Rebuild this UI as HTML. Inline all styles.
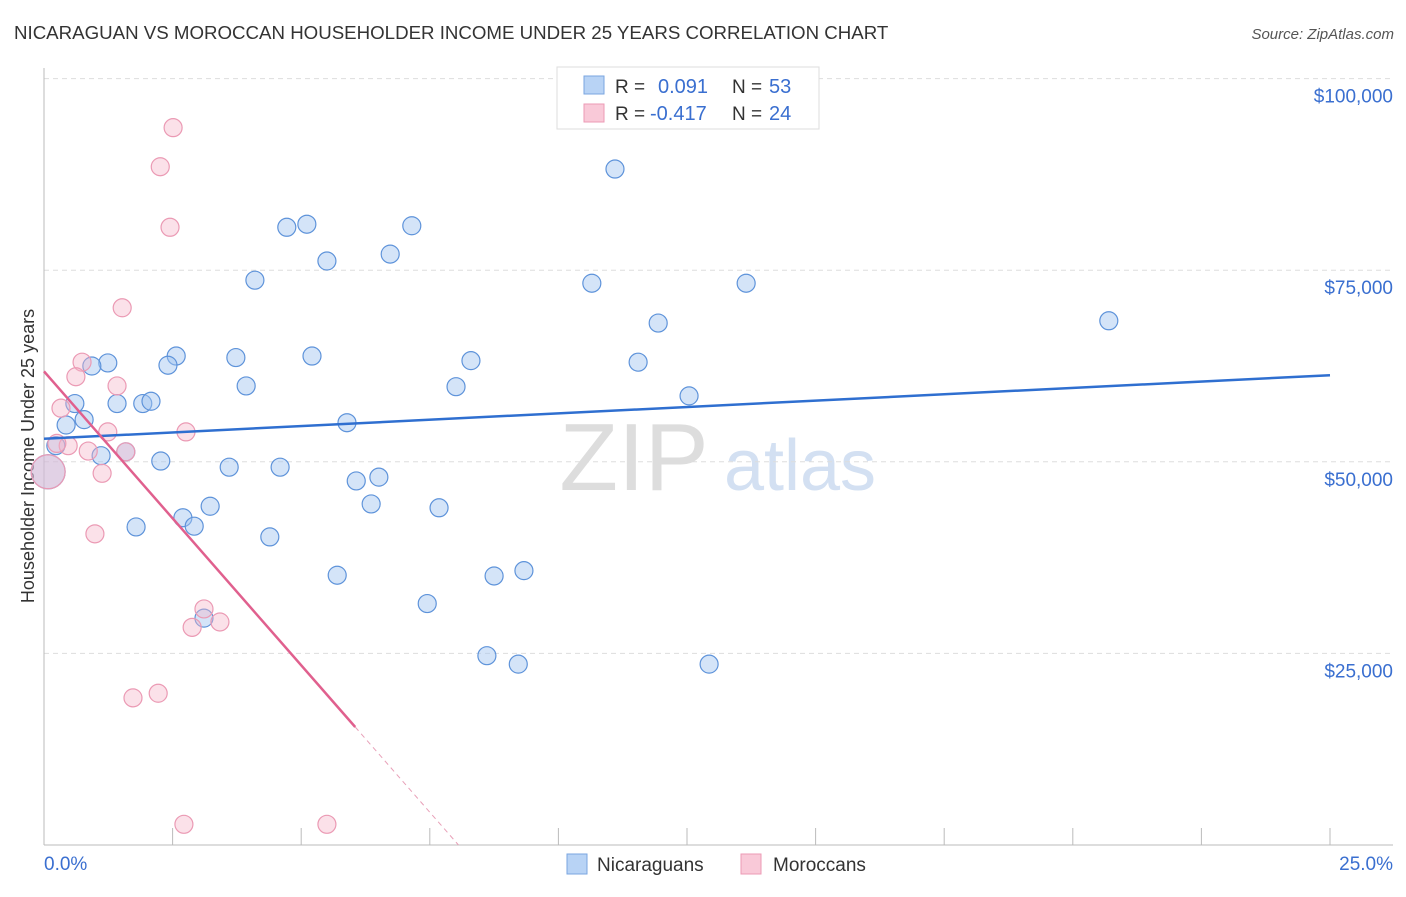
<!DOCTYPE html>
<html><head><meta charset="utf-8"><style>
body{margin:0;background:#fff;font-family:"Liberation Sans",sans-serif;}
svg text{font-family:"Liberation Sans",sans-serif;}
</style></head><body>
<svg id="c" width="1406" height="892" xmlns="http://www.w3.org/2000/svg">
<text x="14" y="39" font-size="18.7" fill="#333">NICARAGUAN VS MOROCCAN HOUSEHOLDER INCOME UNDER 25 YEARS CORRELATION CHART</text>
<text x="1394" y="39" font-size="15" fill="#555" font-style="italic" text-anchor="end">Source: ZipAtlas.com</text>
<text x="634" y="490" font-size="96" fill="#ddd" font-family="Liberation Serif" text-anchor="middle">ZIP</text>
<text x="800" y="490" font-size="72" fill="#d3e0f2" text-anchor="middle">atlas</text>
<text transform="translate(34,456) rotate(-90)" font-size="18" fill="#333" text-anchor="middle">Householder Income Under 25 years</text>
<g id="grid"></g><g id="marks"></g>
<g>
<rect x="557" y="67" width="262" height="62" fill="#fff" stroke="#ddd"/>
<rect x="584" y="76" width="20" height="18" fill="#b8d3f5" stroke="#7aa6e0"/>
<rect x="584" y="104" width="20" height="18" fill="#f9c9d8" stroke="#ec9ab5"/>
<text x="615" y="93" font-size="19" fill="#333">R = </text><text x="658" y="93" font-size="20" fill="#3a6fd0">0.091</text>
<text x="732" y="93" font-size="19" fill="#333">N = </text><text x="769" y="93" font-size="20" fill="#3a6fd0">53</text>
<text x="615" y="120" font-size="19" fill="#333">R = </text><text x="650" y="120" font-size="20" fill="#3a6fd0">-0.417</text>
<text x="732" y="120" font-size="19" fill="#333">N = </text><text x="769" y="120" font-size="20" fill="#3a6fd0">24</text>
</g>
<g>
<rect x="567" y="854" width="20" height="20" fill="#b8d3f5" stroke="#7aa6e0"/>
<text x="597" y="871" font-size="19" fill="#333">Nicaraguans</text>
<rect x="741" y="854" width="20" height="20" fill="#f9c9d8" stroke="#ec9ab5"/>
<text x="773" y="871" font-size="19" fill="#333">Moroccans</text>
</g>
</svg>
<script>
const xTicks=[0,2.5,5,7.5,10,12.5,15,17.5,20,22.5,25];
const yTicks=[25000,50000,75000,100000];
const yTickLabels=["$25,000","$50,000","$75,000","$100,000"];
const blueX=[11.10,4.72,5.11,7.15,5.50,6.73,4.10,10.65,13.65,11.94,20.70,2.57,2.41,1.24,0.93,3.73,5.21,8.30,11.55,3.93,8.01,12.54,0.60,1.42,1.92,2.08,0.78,0.43,5.89,0.23,1.11,1.59,2.27,3.60,4.59,0.08,6.07,6.51,6.36,7.68,3.23,2.70,2.92,1.79,4.39,5.70,8.75,9.33,7.45,3.11,8.61,9.22,12.93];
const blueY=[88.2,80.6,81.0,80.8,76.2,77.1,73.7,73.3,73.3,68.1,68.4,63.8,62.6,62.9,62.5,63.6,63.8,63.2,63.0,59.9,59.8,58.6,57.6,57.6,57.6,57.9,55.5,54.8,55.1,52.1,50.8,51.3,50.1,49.3,49.3,48.7,47.5,48.0,44.5,44.0,44.2,42.7,41.6,41.5,40.2,35.2,35.1,35.8,31.5,29.6,24.7,23.6,23.6];
const pinkX=[2.51,2.26,2.45,1.52,0.74,0.62,1.42,0.33,1.24,2.76,0.47,0.86,1.59,0.08,1.13,0.99,3.11,2.88,3.42,1.73,2.22,2.72,5.50,0.25];
const pinkY=[93.6,88.5,80.6,70.1,63.0,61.1,59.9,57.0,53.9,53.9,52.1,51.4,51.3,48.7,48.5,40.6,30.8,28.4,29.1,19.2,19.8,2.7,2.7,52.4];
const blueTrend=[53.0,61.3];
const pinkTrend=[61.8,-7.67];
const X=v=>44+v/25*1286;
const Y=k=>845-k/25*191.6;
const NS="http://www.w3.org/2000/svg";
const grid=document.getElementById('grid'),marks=document.getElementById('marks');
function mk(p,tag,a){const e=document.createElementNS(NS,tag);for(const k in a)e.setAttribute(k,a[k]);p.appendChild(e);return e;}
yTicks.forEach((t,i)=>{
 const g=mk(grid,'line',{x1:44,x2:1393,y1:Y(t/1000),y2:Y(t/1000),stroke:'#ddd','stroke-dasharray':'5,4'});
 
 
 const l=mk(grid,'text',{x:1393,y:Y(t/1000)+24,'font-size':19,fill:'#3a6fd0','text-anchor':'end'});l.textContent=yTickLabels[i];
 
 
});
mk(grid,'line',{x1:44,x2:44,y1:68,y2:845,stroke:'#bbb'});
mk(grid,'line',{x1:44,x2:1393,y1:845,y2:845,stroke:'#bbb'});
xTicks.forEach(t=>{const tk=mk(grid,'line',{x1:X(t),x2:X(t),y1:828,y2:845,stroke:'#bbb'});
 
 });
const x0=mk(grid,'text',{x:44,y:870,'font-size':19,fill:'#3a6fd0'});x0.textContent='0.0%';


const x1=mk(grid,'text',{x:1393,y:870,'font-size':19,fill:'#3a6fd0','text-anchor':'end'});x1.textContent='25.0%';


blueX.forEach((v,i)=>{const big=i===35;const c=mk(marks,'circle',{cx:X(v),cy:Y(blueY[i]),r:big?17:9,fill:'rgba(160,195,240,0.45)',stroke:'#5e93da','stroke-width':1.2});
 
 });
pinkX.forEach((v,i)=>{const big=i===13;const c=mk(marks,'circle',{cx:X(v),cy:Y(pinkY[i]),r:big?17:9,fill:'rgba(245,180,200,0.4)',stroke:'#eb9ab4','stroke-width':1.2});
 
 });
const bl=mk(marks,'line',{x1:X(0),y1:Y(blueTrend[0]),x2:X(25),y2:Y(blueTrend[1]),stroke:'#2f6fd0','stroke-width':2.5});


const pe=6.05,pz=-pinkTrend[0]/pinkTrend[1];
const pl=mk(marks,'line',{x1:X(0),y1:Y(pinkTrend[0]),x2:X(pe),y2:Y(pinkTrend[0]+pinkTrend[1]*pe),stroke:'#e0608e','stroke-width':2.5});


const pd=mk(marks,'line',{x1:X(pe),y1:Y(pinkTrend[0]+pinkTrend[1]*pe),x2:X(pz),y2:Y(0),stroke:'#e8a0b8','stroke-width':1,'stroke-dasharray':'5,4'});


</script>
</body></html>
